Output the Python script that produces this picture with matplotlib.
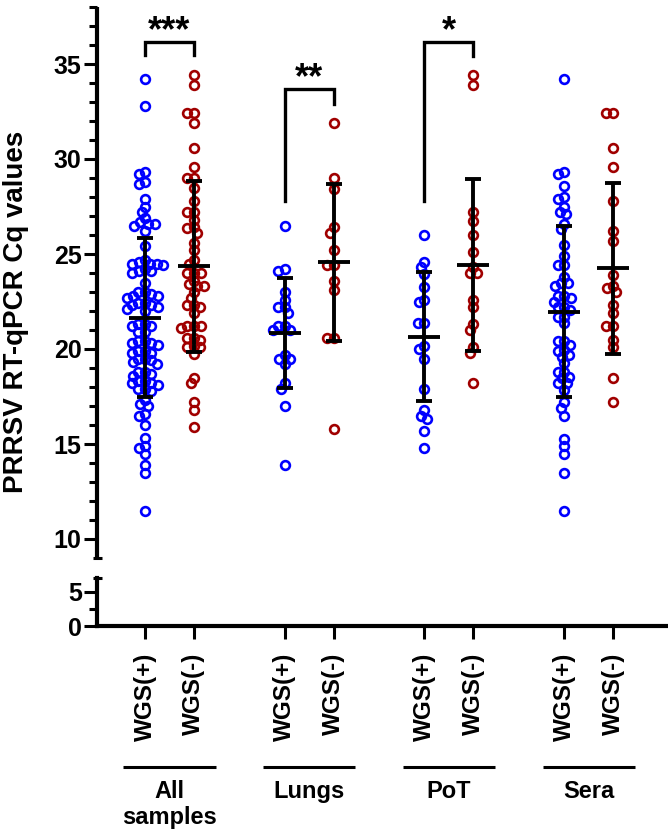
import numpy as np
import matplotlib
matplotlib.use('Agg')
import matplotlib.pyplot as plt
from matplotlib import transforms

plt.rcParams['font.family'] = ['Liberation Sans', 'DejaVu Sans']
plt.rcParams['font.weight'] = 'bold'

# ---------------- data ----------------
groups = ['All\nsamples', 'Lungs', 'PoT', 'Sera']
tick_labels = ['WGS(+)', 'WGS(-)', 'WGS(+)', 'WGS(-)',
               'WGS(+)', 'WGS(-)', 'WGS(+)', 'WGS(-)']

all_pos = [34.2, 32.8, 29.3, 29.2, 28.8, 28.7, 27.9, 27.5, 27.2, 26.9, 26.7, 26.6,
           26.6, 26.5, 26.2, 25.4, 24.7, 24.5, 24.5, 24.4, 24.5, 24.6, 24.1, 24.0,
           24.2, 24.1, 23.5, 23.0, 22.9, 22.8, 23.0, 22.7, 22.8, 22.3, 22.4, 22.2,
           22.0, 22.3, 22.1, 22.4, 21.3, 21.2, 21.3, 21.2, 20.9, 20.9, 20.4, 20.3,
           20.2, 20.4, 20.3, 19.9, 19.8, 19.9, 19.8, 19.5, 19.4, 19.2, 19.3, 19.5,
           18.8, 18.7, 18.6, 18.8, 18.3, 18.2, 18.1, 18.3, 18.2, 17.9, 17.8, 17.9,
           17.3, 17.0, 17.1, 16.5, 16.6, 16.0, 15.3, 14.9, 14.8, 14.5, 13.9, 13.5,
           11.5]
all_neg = [34.4, 33.9, 32.4, 32.4, 31.9, 30.6, 29.6, 29.0, 29.0, 28.5, 27.8, 27.2,
           27.2, 26.8, 26.4, 26.35, 26.1, 25.6, 25.2, 24.7, 24.5, 24.0, 24.0, 24.0,
           23.6, 23.3, 23.4, 23.3, 23.0, 22.7, 22.3, 22.2, 22.3, 21.9, 21.2, 21.1,
           21.2, 21.2, 20.6, 20.6, 20.5, 20.1, 20.1, 20.15, 19.75, 18.5, 18.2, 17.2,
           16.8, 15.9]
lungs_pos = [26.5, 24.2, 24.1, 23.0, 22.6, 22.2, 22.2, 21.9, 21.2, 21.2, 21.0, 21.0,
             19.7, 19.5, 19.5, 19.2, 18.2, 17.9, 17.0, 13.9]
lungs_neg = [31.9, 29.0, 28.4, 26.4, 26.1, 25.2, 24.4, 24.4, 23.6, 23.1, 20.6, 20.6,
             15.8]
pot_pos = [26.0, 24.6, 24.3, 23.95, 23.25, 22.6, 22.45, 21.35, 21.35, 20.15, 20.0,
           19.5, 17.9, 16.8, 16.5, 16.3, 15.7, 14.8]
pot_neg = [34.4, 33.9, 27.2, 26.75, 26.0, 25.1, 24.3, 24.0, 24.0, 22.6, 22.2, 21.3,
           21.0, 20.1, 19.8, 18.2]
sera_pos = [34.2, 29.3, 29.2, 28.6, 28.0, 27.9, 27.45, 27.2, 27.1, 26.6, 26.3, 25.45,
            24.9, 24.4, 24.4, 23.8, 23.5, 23.5, 23.3, 22.8, 22.8, 22.7, 22.2, 22.2,
            22.5, 22.05, 21.7, 21.7, 21.35, 20.4, 20.4, 20.2, 19.95, 19.9, 19.7, 19.6,
            19.25, 18.8, 18.8, 18.55, 18.45, 18.2, 18.2, 17.85, 17.2, 16.9, 16.45,
            15.25, 14.9, 14.5, 13.5, 11.5]
sera_neg = [32.4, 32.4, 30.6, 29.6, 27.8, 26.2, 25.7, 23.9, 23.3, 23.2, 23.0, 22.3,
            21.9, 21.2, 21.2, 20.5, 20.1, 18.5, 17.2]

series = [all_pos, all_neg, lungs_pos, lungs_neg, pot_pos, pot_neg, sera_pos, sera_neg]
means = [21.65, 24.35, 20.85, 24.56, 20.65, 24.42, 21.95, 24.24]
sds = [4.2, 4.5, 2.9, 4.12, 3.38, 4.55, 4.5, 4.5]
sig_labels = ['***', '**', '*']

# ---------------- layout ----------------
W, H = 668, 840
fig = plt.figure(figsize=(W / 100, H / 100), dpi=100)

left = 97 / W
width = 1 - left
top_lo, top_hi = 9, 38
bot_lo, bot_hi = 0, 7
px_per_unit_top = 19.0
ax_top = fig.add_axes([left, 1 - 558 / H, width, (558 - 7) / H])
ax_bot = fig.add_axes([left, 1 - 626 / H, width, 48 / H])

xlim = (-0.519, 3.568)
px_per_x = 139.7
for ax in (ax_top, ax_bot):
    ax.set_xlim(*xlim)
    ax.patch.set_alpha(0)
ax_top.set_ylim(top_lo, top_hi)
ax_bot.set_ylim(bot_lo, bot_hi)

offs = 0.175
xpos = []
for g in range(4):
    xpos += [g - offs, g + offs]

colors = ['#0000ff', '#a00000'] * 4


def swarm(vals, diam):
    vals = np.asarray(vals, float)
    ys = vals * px_per_unit_top
    order = np.argsort(-vals)
    placed = []
    xs = np.zeros(len(vals))
    for i in order:
        y = ys[i]
        cands = [0.0]
        for (px, py) in placed:
            dy = y - py
            if abs(dy) < diam:
                dx = np.sqrt(diam ** 2 - dy ** 2)
                cands += [px + dx, px - dx]
        cands = sorted(cands, key=lambda c: (abs(c), c))
        chosen = 0.0
        for c in cands:
            if all((c - px) ** 2 + (y - py) ** 2 >= diam ** 2 - 1e-6 for px, py in placed):
                chosen = c
                break
        xs[i] = chosen
        placed.append((chosen, y))
    return xs / px_per_x


for x0, vals, col in zip(xpos, series, colors):
    dx = swarm(vals, 6.6)
    ax_top.plot(x0 + dx, vals, 'o', ms=6.3, mfc='none', mec=col, mew=1.9,
                zorder=3, clip_on=False)

# mean +/- SD
mean_half = 16 / px_per_x
for x0, m, s in zip(xpos, means, sds):
    ax_top.errorbar([x0], [m], yerr=[s], fmt='none', ecolor='black', elinewidth=2.8,
                    capsize=5.8, capthick=2.8, zorder=4)
    ax_top.plot([x0 - mean_half, x0 + mean_half], [m, m], color='black', lw=2.8,
                solid_capstyle='butt', zorder=4)

# significance brackets
brackets = [  # (left x, right x, top, left leg bottom, right leg bottom)
    (xpos[0], xpos[1], 36.15, 35.45, 35.45),
    (xpos[2], xpos[3], 33.7, 27.8, 32.9),
    (xpos[4], xpos[5], 36.15, 27.8, 35.4),
]
for (xa, xb, yt, ya, yb), lab in zip(brackets, sig_labels):
    ax_top.plot([xa, xa, xb, xb], [ya, yt, yt, yb], color='black', lw=2.4,
                solid_joinstyle='miter', zorder=4, clip_on=False)
    ax_top.text((xa + xb) / 2, yt + 0.05, lab, ha='center', va='baseline',
                fontsize=26, fontweight='bold')

# ---------------- axes styling ----------------
spine_w = 3.0
for sp in ['top', 'right', 'bottom']:
    ax_top.spines[sp].set_visible(False)
for sp in ['top', 'right']:
    ax_bot.spines[sp].set_visible(False)
ax_top.spines['left'].set_linewidth(spine_w)
ax_bot.spines['left'].set_linewidth(spine_w)
ax_bot.spines['bottom'].set_linewidth(spine_w)
ax_top.spines['left'].set_capstyle('butt')

ax_top.set_yticks([10, 15, 20, 25, 30, 35])
ax_top.set_yticks([v for v in range(11, 39) if v % 5 != 0], minor=True)
ax_top.set_xticks([])
ax_top.tick_params(axis='y', which='major', length=9.5, width=2.2, labelsize=18, pad=1.5)
ax_top.tick_params(axis='y', which='minor', length=6, width=2.2)

ax_bot.set_yticks([0, 5])
ax_bot.set_yticks([2.5], minor=True)
ax_bot.tick_params(axis='y', which='major', length=9.5, width=2.2, labelsize=18, pad=1.5)
ax_bot.tick_params(axis='y', which='minor', length=6, width=2.2)
ax_bot.set_xticks(xpos)
ax_bot.set_xticklabels(tick_labels, rotation=90, fontsize=17.5, fontweight='bold')
ax_bot.tick_params(axis='x', length=9, width=2.2, pad=10)
for lab in ax_top.get_yticklabels() + ax_bot.get_yticklabels():
    lab.set_fontweight('bold')

# end caps of the broken axis
cap = 4.5 / (width * W)
ytr_top = transforms.blended_transform_factory(ax_top.transAxes, ax_top.transData)
ax_top.plot([-cap, cap], [9, 9], color='black', lw=2.2, transform=ytr_top, clip_on=False,
            solid_capstyle='butt')
ytr_bot = transforms.blended_transform_factory(ax_bot.transAxes, ax_bot.transData)
ax_bot.plot([-cap, cap], [7, 7], color='black', lw=2.2, transform=ytr_bot, clip_on=False,
            solid_capstyle='butt')

# y label
fig.text(16 / W, 1 - 312 / H, 'PRRSV RT-qPCR Cq values', rotation=90, ha='center',
         va='center', fontsize=20, fontweight='bold')

# group labels with underline
gtr = transforms.blended_transform_factory(ax_bot.transData, fig.transFigure)
under_half = 0.33
for g, name in enumerate(groups):
    ax_bot.plot([g - under_half, g + under_half], [1 - 767 / H] * 2, color='black',
                lw=2.2, transform=gtr, clip_on=False, solid_capstyle='butt')
    ax_bot.text(g, 1 - 780 / H, name, transform=gtr, ha='center', va='top',
                fontsize=17, fontweight='bold', linespacing=1.15)

fig.savefig('out.png', dpi=100)
